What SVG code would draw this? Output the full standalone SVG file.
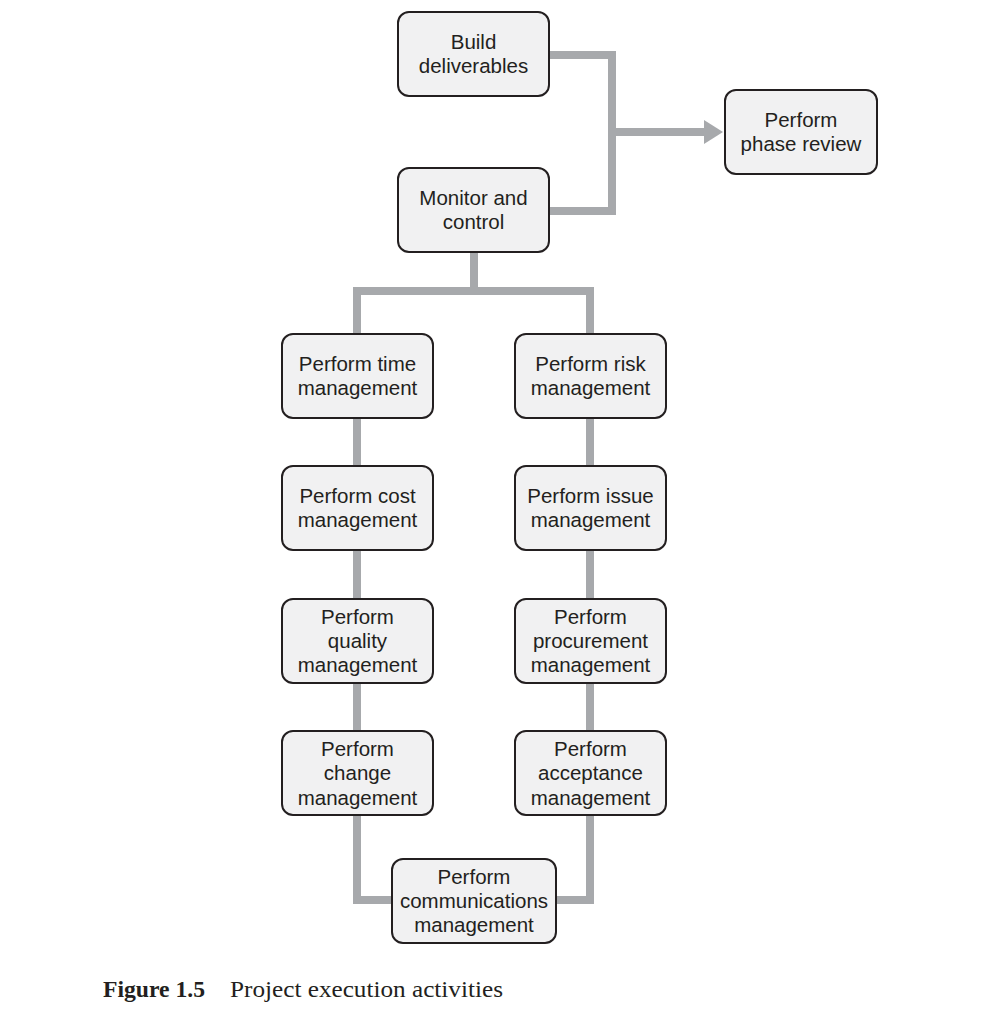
<svg xmlns="http://www.w3.org/2000/svg" width="995" height="1024" viewBox="0 0 995 1024">
<style>
.box{fill:#f1f1f2;stroke:#231f20;stroke-width:2}
.lbl{font-family:"Liberation Sans",Arial,sans-serif;font-size:20.5px;fill:#231f20;text-anchor:middle}
.con{fill:none;stroke:#a7a9ac;stroke-width:8;stroke-linejoin:miter}
.cap{font-family:"Liberation Serif","Times New Roman",serif;font-size:23px;fill:#231f20}
</style>
<rect width="995" height="1024" fill="#ffffff"/>
<g id="connectors">
<polyline class="con" points="549,55 612,55 612,211 549,211"/>
<line class="con" x1="612" y1="132" x2="706" y2="132"/>
<polygon points="704,120 723,132 704,144" fill="#a7a9ac"/>
<polyline class="con" points="474,252 474,291"/>
<polyline class="con" points="357,334 357,291 590,291 590,334"/>
<line class="con" x1="357" y1="418" x2="357" y2="466"/>
<line class="con" x1="357" y1="550" x2="357" y2="598"/>
<line class="con" x1="357" y1="683" x2="357" y2="731"/>
<polyline class="con" points="357,815 357,900 392,900"/>
<line class="con" x1="590" y1="418" x2="590" y2="466"/>
<line class="con" x1="590" y1="550" x2="590" y2="598"/>
<line class="con" x1="590" y1="683" x2="590" y2="731"/>
<polyline class="con" points="590,815 590,900 556,900"/>
</g>
<g id="build">
<rect class="box" x="398" y="12" width="151" height="84" rx="11"/>
<text class="lbl" x="473.5" y="49">Build</text>
<text class="lbl" x="473.5" y="73">deliverables</text>
</g>
<g id="phase-review">
<rect class="box" x="725" y="90" width="152" height="84" rx="11"/>
<text class="lbl" x="801" y="127">Perform</text>
<text class="lbl" x="801" y="151">phase review</text>
</g>
<g id="monitor">
<rect class="box" x="398" y="168" width="151" height="84" rx="11"/>
<text class="lbl" x="473.5" y="205">Monitor and</text>
<text class="lbl" x="473.5" y="229">control</text>
</g>
<g id="time">
<rect class="box" x="282" y="334" width="151" height="84" rx="11"/>
<text class="lbl" x="357.5" y="371">Perform time</text>
<text class="lbl" x="357.5" y="395">management</text>
</g>
<g id="risk">
<rect class="box" x="515" y="334" width="151" height="84" rx="11"/>
<text class="lbl" x="590.5" y="371">Perform risk</text>
<text class="lbl" x="590.5" y="395">management</text>
</g>
<g id="cost">
<rect class="box" x="282" y="466" width="151" height="84" rx="11"/>
<text class="lbl" x="357.5" y="503">Perform cost</text>
<text class="lbl" x="357.5" y="527">management</text>
</g>
<g id="issue">
<rect class="box" x="515" y="466" width="151" height="84" rx="11"/>
<text class="lbl" x="590.5" y="503">Perform issue</text>
<text class="lbl" x="590.5" y="527">management</text>
</g>
<g id="quality">
<rect class="box" x="282" y="599" width="151" height="84" rx="11"/>
<text class="lbl" x="357.5" y="624">Perform</text>
<text class="lbl" x="357.5" y="648">quality</text>
<text class="lbl" x="357.5" y="672">management</text>
</g>
<g id="procurement">
<rect class="box" x="515" y="599" width="151" height="84" rx="11"/>
<text class="lbl" x="590.5" y="624">Perform</text>
<text class="lbl" x="590.5" y="648">procurement</text>
<text class="lbl" x="590.5" y="672">management</text>
</g>
<g id="change">
<rect class="box" x="282" y="731" width="151" height="84" rx="11"/>
<text class="lbl" x="357.5" y="756">Perform</text>
<text class="lbl" x="357.5" y="780">change</text>
<text class="lbl" x="357.5" y="805">management</text>
</g>
<g id="acceptance">
<rect class="box" x="515" y="731" width="151" height="84" rx="11"/>
<text class="lbl" x="590.5" y="756">Perform</text>
<text class="lbl" x="590.5" y="780">acceptance</text>
<text class="lbl" x="590.5" y="805">management</text>
</g>
<g id="communications">
<rect class="box" x="392" y="859" width="164" height="84" rx="11"/>
<text class="lbl" x="474" y="884">Perform</text>
<text class="lbl" x="474" y="908">communications</text>
<text class="lbl" x="474" y="932">management</text>
</g>
<g id="caption">
<text class="cap" x="103" y="997" font-weight="bold" textLength="102" lengthAdjust="spacingAndGlyphs">Figure 1.5</text>
<text class="cap" x="230" y="997" textLength="273" lengthAdjust="spacingAndGlyphs">Project execution activities</text>
</g>
</svg>
